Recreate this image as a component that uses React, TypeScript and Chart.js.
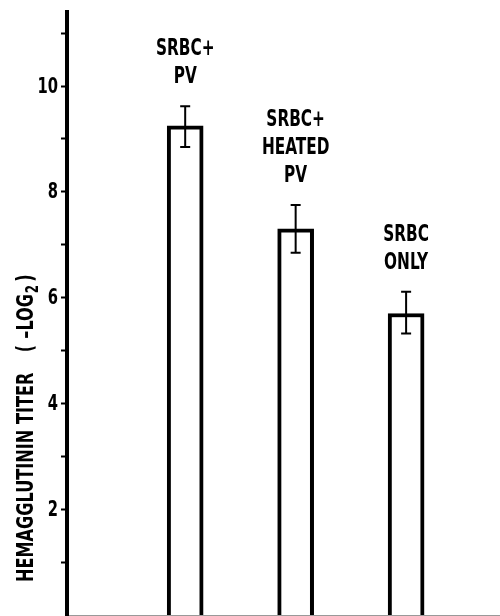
import React, { useEffect, useRef } from "react";
import { Chart, registerables } from "chart.js";

Chart.register(...registerables);

// ---- data ----
const categoryLabels: string[][] = [
  ["SRBC+", "PV"],
  ["SRBC+", "HEATED", "PV"],
  ["SRBC", "ONLY"],
];
const barPositions = [1, 2, 3];
const meanTiters = [9.25, 7.3, 5.7];
const errorUpper = [0.37, 0.45, 0.41];
const errorLower = [0.4, 0.45, 0.38];
const yTickValues = [1, 2, 3, 4, 5, 6, 7, 8, 9, 10, 11];
const yTickLabels = ["", "2", "", "4", "", "6", "", "8", "", "10", ""];
const yTitleMain = "HEMAGGLUTININ TITER";
const yTitleUnit = ["(", "–LOG", "2", ")"];

const FONT = "'Liberation Sans Narrow', 'Arial Narrow', 'DejaVu Sans Condensed', sans-serif";
const SQUEEZE = 0.74;
const TITLE_SQUEEZE = 0.78;

function squeezedText(ctx: CanvasRenderingContext2D, text: string, x: number, y: number, sx: number) {
  ctx.save();
  ctx.translate(x, y);
  ctx.scale(sx, 1);
  ctx.fillText(text, 0, 0);
  ctx.restore();
}

const overlayPlugin = {
  id: "overlay",
  afterDatasetsDraw(chart: any) {
    const ctx = chart.ctx as CanvasRenderingContext2D;
    const xs = chart.scales.x;
    const ys = chart.scales.y;
    ctx.save();
    ctx.strokeStyle = "#000";
    ctx.fillStyle = "#000";
    ctx.lineWidth = 2;
    meanTiters.forEach((m, i) => {
      const x = xs.getPixelForValue(barPositions[i]);
      const yt = ys.getPixelForValue(m + errorUpper[i]);
      const yb = ys.getPixelForValue(m - errorLower[i]);
      ctx.beginPath();
      ctx.moveTo(x, yt);
      ctx.lineTo(x, yb);
      ctx.moveTo(x - 5, yt);
      ctx.lineTo(x + 5, yt);
      ctx.moveTo(x - 5, yb);
      ctx.lineTo(x + 5, yb);
      ctx.stroke();

      // category label above the bar
      const lines = categoryLabels[i];
      ctx.font = `bold 23px ${FONT}`;
      ctx.textAlign = "center";
      ctx.textBaseline = "alphabetic";
      const n = lines.length;
      lines.forEach((ln, j) => {
        const baseY = yt - 23 - (n - 1 - j) * 28;
        squeezedText(ctx, ln, x, baseY, SQUEEZE);
      });
    });

    // y tick labels
    ctx.font = `bold 21px ${FONT}`;
    ctx.textAlign = "right";
    ctx.textBaseline = "middle";
    yTickValues.forEach((v, k) => {
      const lab = yTickLabels[k];
      if (!lab) return;
      squeezedText(ctx, lab, ys.right - 9, ys.getPixelForValue(v) + 1, 0.78);
    });
    ctx.restore();
  },
  afterDraw(chart: any) {
    const ctx = chart.ctx as CanvasRenderingContext2D;
    const area = chart.chartArea;
    ctx.save();
    ctx.fillStyle = "#000";
    ctx.translate(33, area.bottom - 33);
    ctx.rotate(-Math.PI / 2);
    ctx.scale(TITLE_SQUEEZE, 1);
    ctx.textAlign = "left";
    ctx.textBaseline = "alphabetic";
    ctx.font = `bold 23px ${FONT}`;
    let x = 0;
    ctx.fillText(yTitleMain, x, 0);
    x += ctx.measureText(yTitleMain).width + 26;
    ctx.fillText(yTitleUnit[0], x, 0);
    x += ctx.measureText(yTitleUnit[0]).width + 8;
    ctx.fillText(yTitleUnit[1], x, 0);
    x += ctx.measureText(yTitleUnit[1]).width + 1;
    ctx.font = `bold 17px ${FONT}`;
    ctx.fillText(yTitleUnit[2], x, 5);
    x += ctx.measureText(yTitleUnit[2]).width + 4;
    ctx.font = `bold 23px ${FONT}`;
    ctx.fillText(yTitleUnit[3], x, 0);
    ctx.restore();
  },
};

export default function App() {
  const ref = useRef<HTMLCanvasElement | null>(null);
  useEffect(() => {
    if (!ref.current) return;
    const chart = new Chart(ref.current, {
      type: "bar",
      data: {
        datasets: [
          {
            data: meanTiters.map((m, i) => ({ x: barPositions[i], y: m })),
            backgroundColor: "#fff",
            borderColor: "#000",
            borderWidth: 4,
            borderSkipped: "bottom",
            barThickness: 36,
          },
        ],
      },
      options: {
        animation: false,
        responsive: false,
        layout: { padding: { top: 12, right: 0, bottom: 0, left: 0 } },
        plugins: {
          legend: { display: false },
          tooltip: { enabled: false },
          title: { display: false },
        },
        scales: {
          x: {
            type: "linear",
            offset: false,
            min: -0.07,
            max: 3.85,
            grid: { display: false },
            ticks: { display: false },
            border: { display: true, color: "#999", width: 1 },
            afterFit: (s: any) => {
              s.height = 1;
              s.paddingLeft = 0;
              s.paddingRight = 0;
            },
          },
          y: {
            min: 0,
            max: 11.4,
            afterBuildTicks: (s: any) => {
              s.ticks = yTickValues.map((v) => ({ value: v }));
            },
            ticks: { display: false },
            grid: {
              display: true,
              drawOnChartArea: false,
              drawTicks: true,
              tickLength: 6,
              tickWidth: 2,
              tickColor: "#000",
            },
            border: { display: true, color: "#000", width: 4 },
            afterFit: (s: any) => {
              s.width = 67;
              s.paddingTop = 0;
              s.paddingBottom = 0;
            },
          },
        },
      },
      plugins: [overlayPlugin],
    } as any);
    return () => chart.destroy();
  }, []);
  return (
    <div style={{ position: "fixed", left: 0, top: 0, width: 500, height: 616, background: "#fff" }}>
      <canvas ref={ref} width={500} height={616} style={{ display: "block" }} />
    </div>
  );
}
